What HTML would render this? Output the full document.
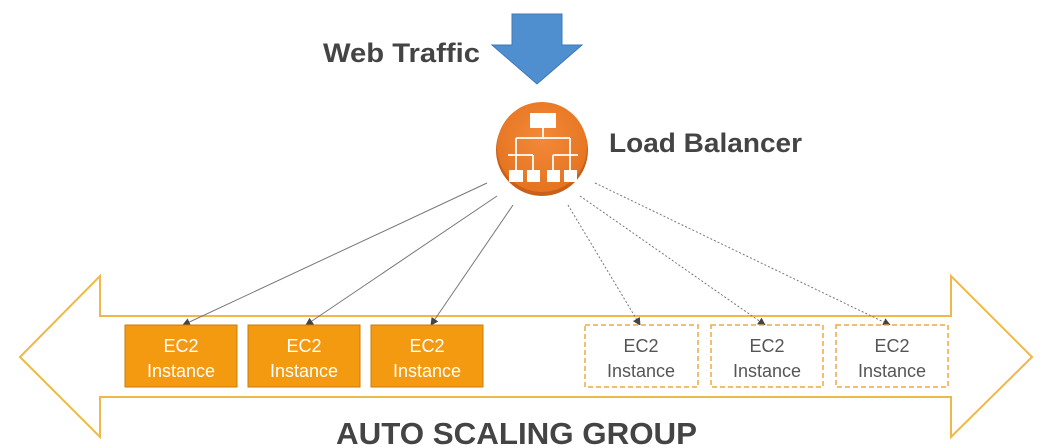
<!DOCTYPE html>
<html><head><style>
html,body{margin:0;padding:0;background:#fff;}
svg{display:block}
text{font-family:"Liberation Sans",sans-serif;}
</style></head><body>
<svg width="1060" height="448" viewBox="0 0 1060 448" xmlns="http://www.w3.org/2000/svg">
<defs>
<marker id="ah" markerWidth="8" markerHeight="8" refX="7" refY="4" orient="auto" markerUnits="userSpaceOnUse">
<path d="M0,0 L8,4 L0,8 z" fill="#444"/></marker>
<radialGradient id="cg" cx="50%" cy="40%" r="60%"><stop offset="0" stop-color="#f28a3a"/><stop offset="1" stop-color="#e5731f"/></radialGradient>
</defs>
<path d="M20,357 L100,276 L100,316 L951,316 L951,276 L1032,357 L951,437 L951,397 L100,397 L100,437 Z" fill="#fff" stroke="#f0b84a" stroke-width="2"/>
<path d="M512,14 L562,14 L562,45 L582,45 L537,84 L492,45 L512,45 Z" fill="#4f8fd0" stroke="#3d78b8" stroke-width="1"/>
<text x="323" y="62" font-size="27" font-weight="bold" fill="#444" textLength="157" lengthAdjust="spacingAndGlyphs">Web Traffic</text>
<circle cx="542" cy="150" r="46" fill="#c8601a"/>
<circle cx="542" cy="147" r="45" fill="url(#cg)"/>
<g fill="#fff" stroke="#fff" stroke-width="1.8">
<rect x="530" y="113" width="26" height="15" stroke="none"/>
<line x1="543" y1="128" x2="543" y2="138"/>
<line x1="516" y1="138" x2="570" y2="138"/>
<line x1="516" y1="138" x2="516" y2="155"/><line x1="570" y1="138" x2="570" y2="155"/>
<line x1="508" y1="155" x2="533" y2="155"/><line x1="553" y1="155" x2="578" y2="155"/>
<line x1="516" y1="155" x2="516" y2="170"/><line x1="533" y1="155" x2="533" y2="170"/>
<line x1="553" y1="155" x2="553" y2="170"/><line x1="570" y1="155" x2="570" y2="170"/>
<rect x="509" y="170" width="14" height="12" stroke="none"/><rect x="527" y="170" width="13" height="12" stroke="none"/>
<rect x="547" y="170" width="13" height="12" stroke="none"/><rect x="564" y="170" width="13" height="12" stroke="none"/>
</g>
<text x="609" y="152" font-size="27" font-weight="bold" fill="#444" textLength="193" lengthAdjust="spacingAndGlyphs">Load Balancer</text>
<g stroke="#777" stroke-width="1" marker-end="url(#ah)">
<line x1="487" y1="183" x2="183" y2="325"/>
<line x1="497" y1="196" x2="306" y2="325"/>
<line x1="513" y1="205" x2="431" y2="325"/>
</g>
<g stroke="#777" stroke-width="1" stroke-dasharray="2,2" marker-end="url(#ah)">
<line x1="568" y1="205" x2="640" y2="325"/>
<line x1="580" y1="196" x2="765" y2="325"/>
<line x1="595" y1="183" x2="890" y2="325"/>
</g>
<g fill="#f39a10" stroke="#c97a0a" stroke-width="1">
<rect x="125" y="325" width="112" height="62"/>
<rect x="248" y="325" width="112" height="62"/>
<rect x="371" y="325" width="112" height="62"/>
</g>
<g fill="#fff" stroke="#f0a840" stroke-width="1.5" stroke-dasharray="5,3">
<rect x="585" y="325" width="113" height="62"/>
<rect x="711" y="325" width="112" height="62"/>
<rect x="836" y="325" width="112" height="62"/>
</g>
<g font-size="18" text-anchor="middle" fill="#fff">
<text x="181" y="352">EC2</text><text x="181" y="377">Instance</text>
<text x="304" y="352">EC2</text><text x="304" y="377">Instance</text>
<text x="427" y="352">EC2</text><text x="427" y="377">Instance</text>
</g>
<g font-size="18" text-anchor="middle" fill="#555">
<text x="641" y="352">EC2</text><text x="641" y="377">Instance</text>
<text x="767" y="352">EC2</text><text x="767" y="377">Instance</text>
<text x="892" y="352">EC2</text><text x="892" y="377">Instance</text>
</g>
<text x="336" y="444" font-size="31" font-weight="bold" fill="#444" textLength="361" lengthAdjust="spacingAndGlyphs">AUTO SCALING GROUP</text>
</svg>
</body></html>
